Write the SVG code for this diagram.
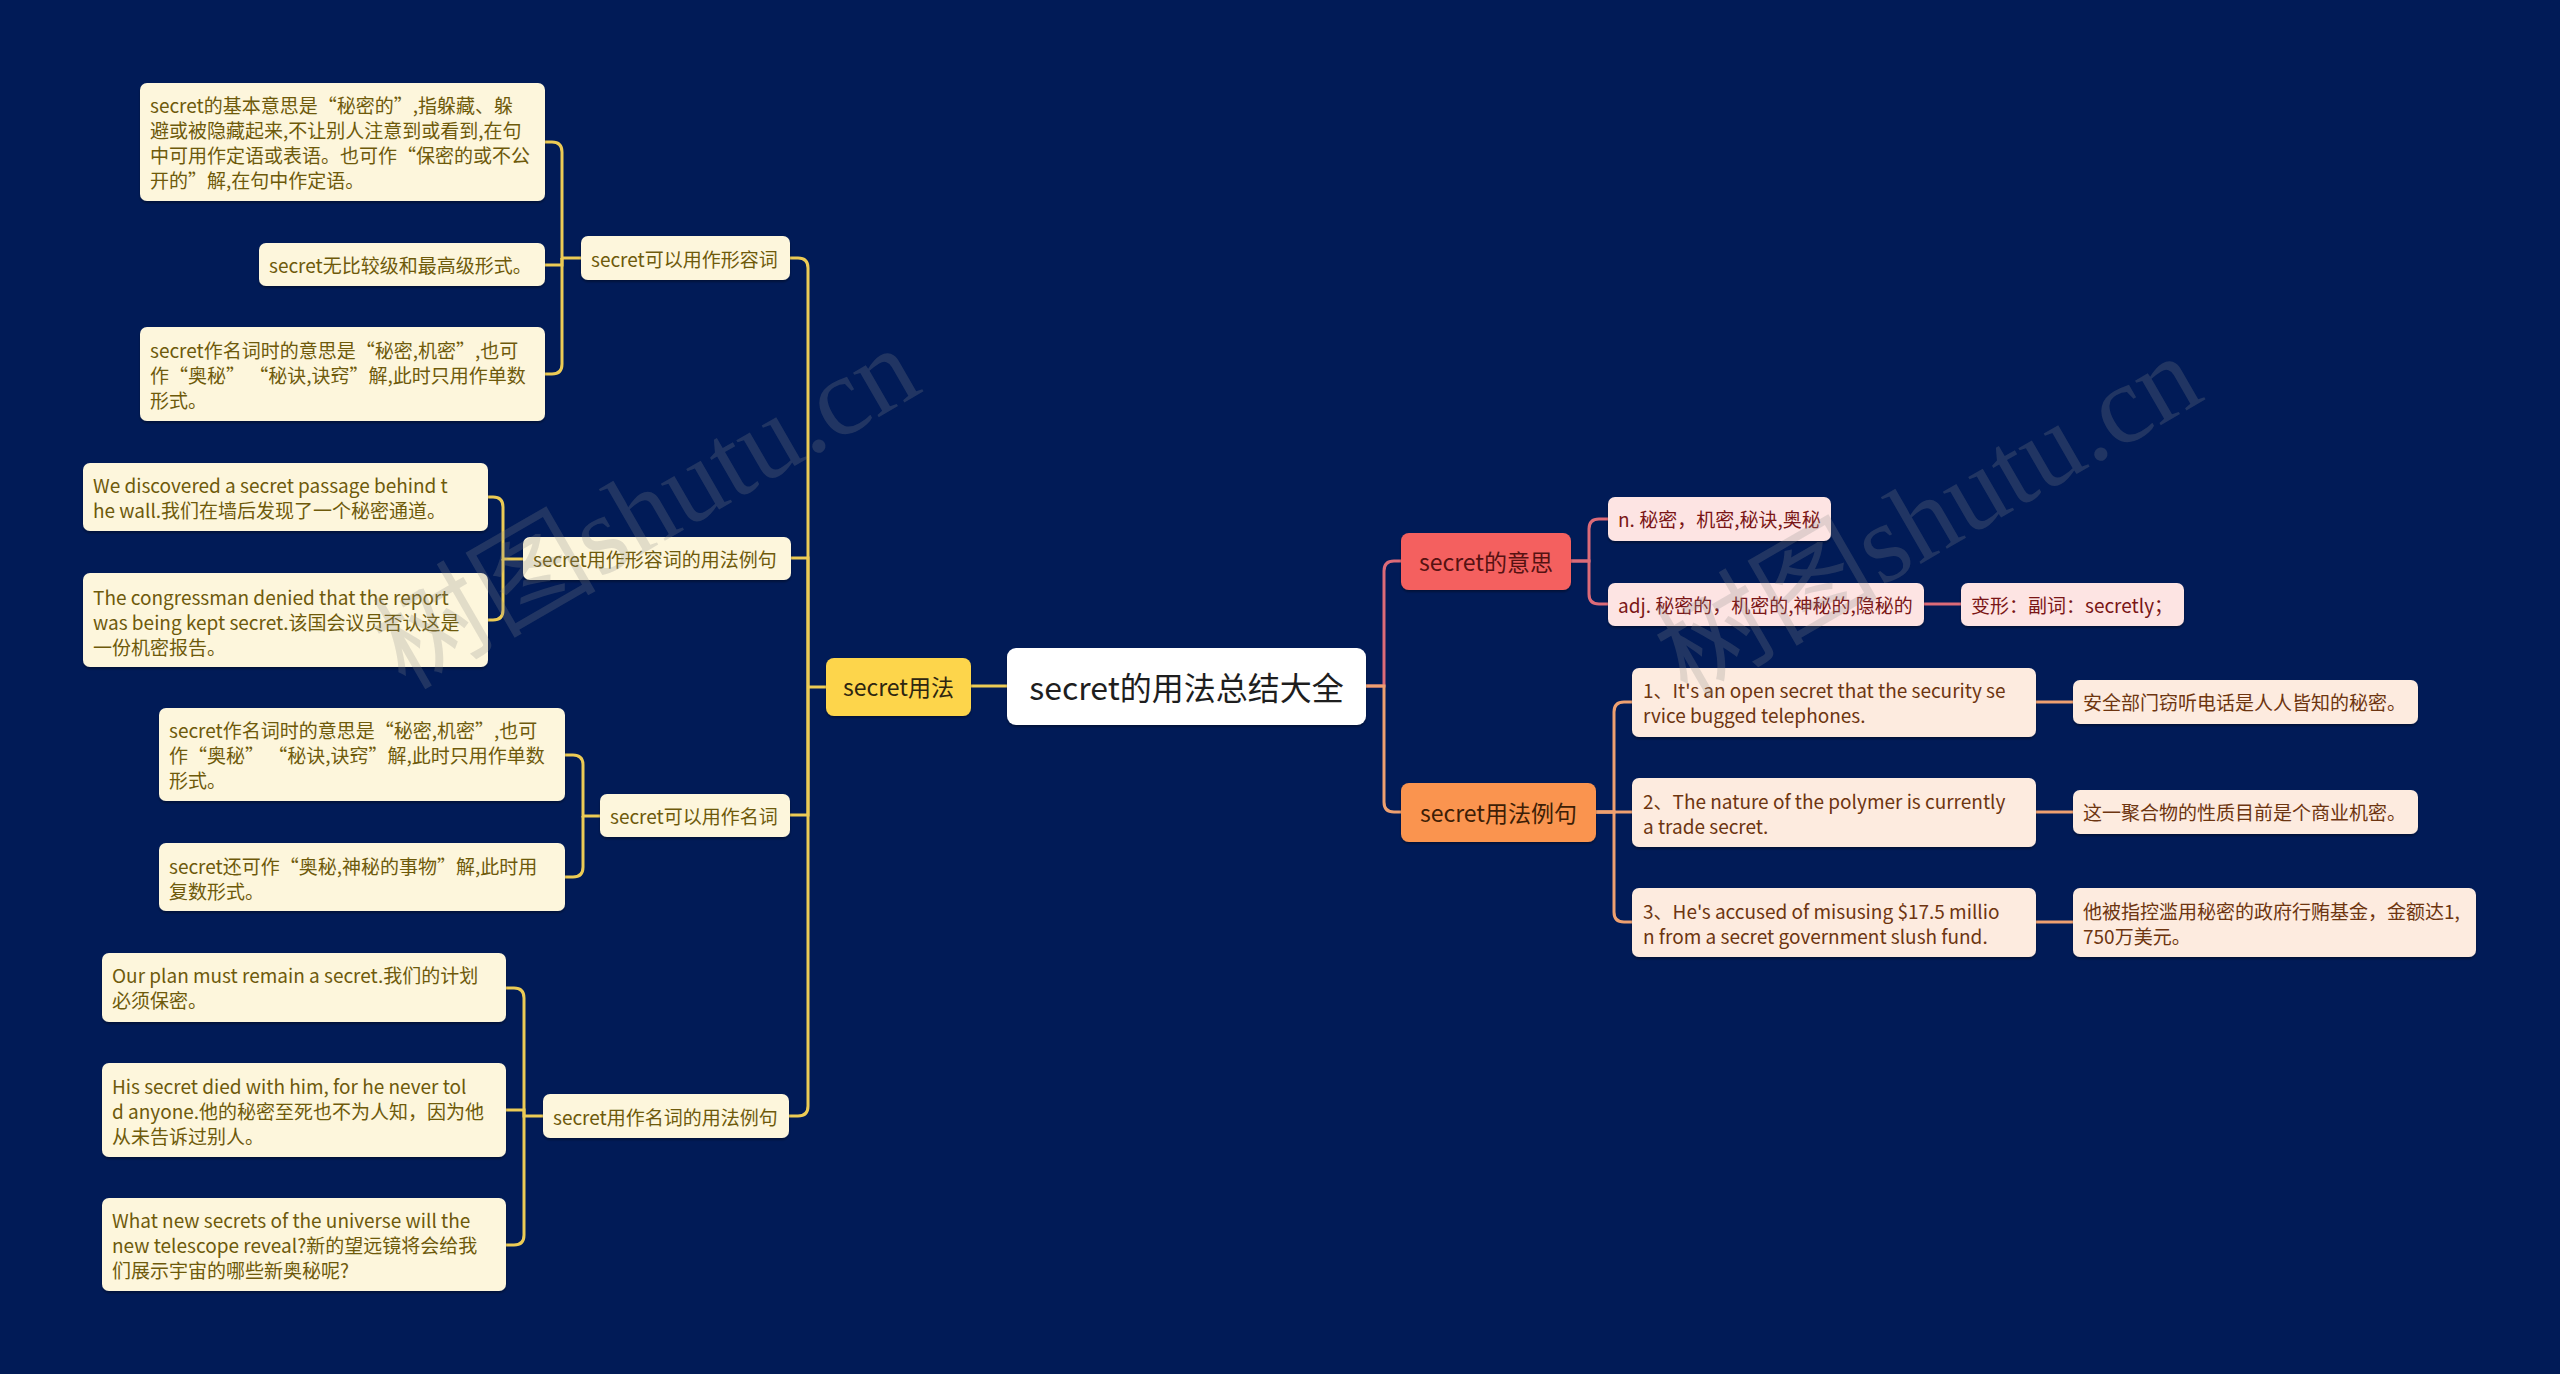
<svg xmlns="http://www.w3.org/2000/svg" width="2560" height="1374" viewBox="0 0 2560 1374">
<defs>
<filter id="sh" x="-5%" y="-10%" width="110%" height="130%">
<feDropShadow dx="0" dy="2" stdDeviation="1" flood-color="#000" flood-opacity="0.35"/>
</filter>
<style>
text{font-family:"Noto Sans CJK SC","Noto Sans",sans-serif;dominant-baseline:central}
.bg{fill:#011b57}
.root rect{fill:#ffffff}
.root text{font-size:32px;fill:#1e1e1e}
.l1y rect{fill:#fdd54b}
.l1y text{font-size:23px;fill:#2e2610}
.l1p rect{fill:#f4615f}
.l1p text{font-size:23px;fill:#561212}
.l1o rect{fill:#fa9450}
.l1o text{font-size:23px;fill:#3e1e06}
.ly rect{fill:#fdf6dc}
.ly text{font-size:19px;fill:#6e5a0b}
.lp rect{fill:#fde4e3}
.lp text{font-size:19px;fill:#7a1616}
.lo rect{fill:#fdebdf}
.lo text{font-size:19px;fill:#6d3510}
.n rect{filter:url(#sh)}
.cy{fill:none;stroke:#eccb55;stroke-width:3}
.cp{fill:none;stroke:#dc6b78;stroke-width:3}
.co{fill:none;stroke:#eea070;stroke-width:3}
.wm{font-family:"Liberation Serif","Noto Sans CJK SC",serif;font-size:112px;fill:#8c8c8c;fill-opacity:0.24;dominant-baseline:auto}
</style>
</defs>
<rect class="bg" x="0" y="0" width="2560" height="1374"/>

<g id="connectors">
<path class="cy" d="M1007,686 H971"/>
<path class="cy" d="M826,687 H808"/>
<path class="cy" d="M790,258 H798 Q808,258 808,268 V687"/>
<path class="cy" d="M791,558 H808 V687"/>
<path class="cy" d="M790,815 H808 V687"/>
<path class="cy" d="M789,1116 H798 Q808,1116 808,1106 V687"/>
<path class="cy" d="M545,142 H552 Q562,142 562,152 V258 H581"/>
<path class="cy" d="M545,265 H562 V258"/>
<path class="cy" d="M545,374 H552 Q562,374 562,364 V258"/>
<path class="cy" d="M488,497 H493 Q503,497 503,507 V559 H523"/>
<path class="cy" d="M488,620 H493 Q503,620 503,610 V559"/>
<path class="cy" d="M565,755 H573 Q583,755 583,765 V816 H600"/>
<path class="cy" d="M565,877 H573 Q583,877 583,867 V816"/>
<path class="cy" d="M506,988 H514 Q524,988 524,998 V1116 H543"/>
<path class="cy" d="M506,1110 H524 V1116"/>
<path class="cy" d="M506,1245 H514 Q524,1245 524,1235 V1116"/>
<path class="cp" d="M1366,686 H1384 V571 Q1384,561 1394,561 H1401"/>
<path class="co" d="M1366,686 H1384 V802 Q1384,812 1394,812 H1401"/>
<path class="cp" d="M1571,561 H1589 V529 Q1589,519 1599,519 H1608"/>
<path class="cp" d="M1571,561 H1589 V594 Q1589,604 1599,604 H1608"/>
<path class="cp" d="M1924,604 H1961"/>
<path class="co" d="M1596,812 H1614 V712 Q1614,702 1624,702 H1632"/>
<path class="co" d="M1596,812 H1632"/>
<path class="co" d="M1596,812 H1614 V912 Q1614,922 1624,922 H1632"/>
<path class="co" d="M2036,702 H2073"/>
<path class="co" d="M2036,812 H2073"/>
<path class="co" d="M2036,922 H2073"/>
</g>

<g id="root" class="n root"><rect x="1007" y="648" width="359" height="77" rx="9"/><text x="1186.5" y="686" text-anchor="middle">secret的用法总结大全</text></g>

<g id="n-usage" class="n l1y"><rect x="826" y="658" width="145" height="58" rx="8"/><text x="898.5" y="686" text-anchor="middle">secret用法</text></g>

<g id="n-adj" class="n ly"><rect x="581" y="236" width="209" height="44" rx="7"/><text x="591" y="258">secret可以用作形容词</text></g>
<g id="n-a1" class="n ly"><rect x="140" y="83" width="405" height="118" rx="7"/><text x="150"><tspan x="150" y="104">secret的基本意思是“秘密的”,指躲藏、躲</tspan><tspan x="150" y="129">避或被隐藏起来,不让别人注意到或看到,在句</tspan><tspan x="150" y="154">中可用作定语或表语。也可作“保密的或不公</tspan><tspan x="150" y="179">开的”解,在句中作定语。</tspan></text></g>
<g id="n-a2" class="n ly"><rect x="259" y="243" width="286" height="43" rx="7"/><text x="269" y="264">secret无比较级和最高级形式。</text></g>
<g id="n-a3" class="n ly"><rect x="140" y="327" width="405" height="94" rx="7"/><text x="150"><tspan x="150" y="349">secret作名词时的意思是“秘密,机密”,也可</tspan><tspan x="150" y="374">作“奥秘” “秘诀,诀窍”解,此时只用作单数</tspan><tspan x="150" y="399">形式。</tspan></text></g>

<g id="n-adjex" class="n ly"><rect x="523" y="537" width="268" height="43" rx="7"/><text x="533" y="558">secret用作形容词的用法例句</text></g>
<g id="n-b1" class="n ly"><rect x="83" y="463" width="405" height="68" rx="7"/><text x="93"><tspan x="93" y="484">We discovered a secret passage behind t</tspan><tspan x="93" y="509">he wall.我们在墙后发现了一个秘密通道。</tspan></text></g>
<g id="n-b2" class="n ly"><rect x="83" y="573" width="405" height="94" rx="7"/><text x="93"><tspan x="93" y="596">The congressman denied that the report</tspan><tspan x="93" y="621">was being kept secret.该国会议员否认这是</tspan><tspan x="93" y="646">一份机密报告。</tspan></text></g>

<g id="n-noun" class="n ly"><rect x="600" y="794" width="190" height="43" rx="7"/><text x="610" y="815">secret可以用作名词</text></g>
<g id="n-c1" class="n ly"><rect x="159" y="708" width="406" height="93" rx="7"/><text x="169"><tspan x="169" y="729">secret作名词时的意思是“秘密,机密”,也可</tspan><tspan x="169" y="754">作“奥秘” “秘诀,诀窍”解,此时只用作单数</tspan><tspan x="169" y="779">形式。</tspan></text></g>
<g id="n-c2" class="n ly"><rect x="159" y="843" width="406" height="68" rx="7"/><text x="169"><tspan x="169" y="865">secret还可作“奥秘,神秘的事物”解,此时用</tspan><tspan x="169" y="890">复数形式。</tspan></text></g>

<g id="n-nounex" class="n ly"><rect x="543" y="1094" width="246" height="44" rx="7"/><text x="553" y="1116">secret用作名词的用法例句</text></g>
<g id="n-d1" class="n ly"><rect x="102" y="953" width="404" height="69" rx="7"/><text x="112"><tspan x="112" y="974">Our plan must remain a secret.我们的计划</tspan><tspan x="112" y="999">必须保密。</tspan></text></g>
<g id="n-d2" class="n ly"><rect x="102" y="1063" width="404" height="94" rx="7"/><text x="112"><tspan x="112" y="1085">His secret died with him, for he never tol</tspan><tspan x="112" y="1110">d anyone.他的秘密至死也不为人知，因为他</tspan><tspan x="112" y="1135">从未告诉过别人。</tspan></text></g>
<g id="n-d3" class="n ly"><rect x="102" y="1198" width="404" height="93" rx="7"/><text x="112"><tspan x="112" y="1219">What new secrets of the universe will the</tspan><tspan x="112" y="1244">new telescope reveal?新的望远镜将会给我</tspan><tspan x="112" y="1269">们展示宇宙的哪些新奥秘呢?</tspan></text></g>

<g id="n-meaning" class="n l1p"><rect x="1401" y="533" width="170" height="57" rx="8"/><text x="1486" y="561" text-anchor="middle">secret的意思</text></g>
<g id="n-mn" class="n lp"><rect x="1608" y="497" width="223" height="44" rx="7"/><text x="1618" y="518">n. 秘密，机密,秘诀,奥秘</text></g>
<g id="n-madj" class="n lp"><rect x="1608" y="583" width="316" height="43" rx="7"/><text x="1618" y="604">adj. 秘密的，机密的,神秘的,隐秘的</text></g>
<g id="n-mform" class="n lp"><rect x="1961" y="583" width="223" height="43" rx="7"/><text x="1971" y="604">变形：副词：secretly；</text></g>

<g id="n-examples" class="n l1o"><rect x="1401" y="783" width="195" height="59" rx="8"/><text x="1498.5" y="812" text-anchor="middle">secret用法例句</text></g>
<g id="n-e1" class="n lo"><rect x="1632" y="668" width="404" height="69" rx="7"/><text x="1643"><tspan x="1643" y="689">1、It's an open secret that the security se</tspan><tspan x="1643" y="714">rvice bugged telephones.</tspan></text></g>
<g id="n-e2" class="n lo"><rect x="1632" y="778" width="404" height="69" rx="7"/><text x="1643"><tspan x="1643" y="800">2、The nature of the polymer is currently</tspan><tspan x="1643" y="825">a trade secret.</tspan></text></g>
<g id="n-e3" class="n lo"><rect x="1632" y="888" width="404" height="69" rx="7"/><text x="1643"><tspan x="1643" y="910">3、He's accused of misusing $17.5 millio</tspan><tspan x="1643" y="935">n from a secret government slush fund.</tspan></text></g>
<g id="n-f1" class="n lo"><rect x="2073" y="680" width="345" height="44" rx="7"/><text x="2083" y="701">安全部门窃听电话是人人皆知的秘密。</text></g>
<g id="n-f2" class="n lo"><rect x="2073" y="790" width="345" height="44" rx="7"/><text x="2083" y="811">这一聚合物的性质目前是个商业机密。</text></g>
<g id="n-f3" class="n lo"><rect x="2073" y="888" width="403" height="69" rx="7"/><text x="2083"><tspan x="2083" y="910">他被指控滥用秘密的政府行贿基金，金额达1,</tspan><tspan x="2083" y="935">750万美元。</tspan></text></g>

<g id="watermark">
<text class="wm" x="645" y="546" text-anchor="middle" transform="rotate(-30 645 506)">树图shutu.cn</text>
<text class="wm" x="1927" y="554" text-anchor="middle" transform="rotate(-30 1927 514)">树图shutu.cn</text>
</g>
</svg>
